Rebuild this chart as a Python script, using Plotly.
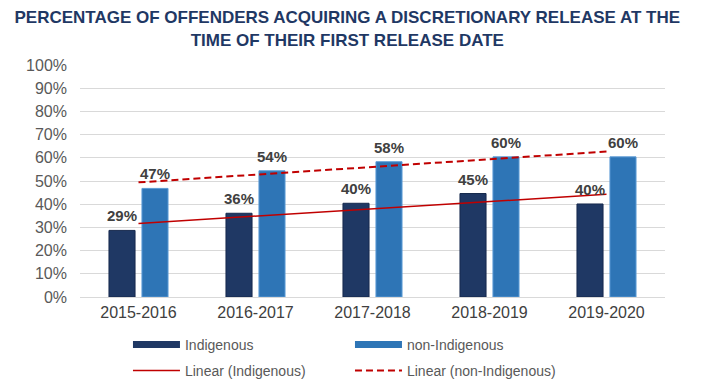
import numpy as np
import plotly.graph_objects as go

categories = ["2015-2016", "2016-2017", "2017-2018", "2018-2019", "2019-2020"]
indigenous = [28.7, 36.1, 40.4, 44.6, 40.1]
non_indigenous = [46.8, 54.4, 58.3, 60.4, 60.4]
y_ticks = [0, 10, 20, 30, 40, 50, 60, 70, 80, 90, 100]
y_tick_labels = [f"{v}%" for v in y_ticks]
title_text = "PERCENTAGE OF OFFENDERS ACQUIRING A DISCRETIONARY RELEASE AT THE<br>TIME OF THEIR FIRST RELEASE DATE"

C_IND = "#1F3864"
C_NON = "#2E75B6"
C_TREND = "#C00000"
FONT = "Liberation Sans, Arial, sans-serif"

xi = np.arange(1, len(categories) + 1)
trend_ind = np.polyval(np.polyfit(xi, indigenous, 1), xi)
trend_non = np.polyval(np.polyfit(xi, non_indigenous, 1), xi)

label_font = dict(family=FONT, size=15, color="#404040", weight="bold")

fig = go.Figure()
fig.add_trace(go.Bar(
    x=categories, y=indigenous, name="Indigenous", marker_color=C_IND,
    marker_line=dict(color="#16294d", width=1), showlegend=False,
))
fig.add_trace(go.Bar(
    x=categories, y=non_indigenous, name="non-Indigenous", marker_color=C_NON,
    marker_line=dict(color="#5b9bd5", width=1), showlegend=False,
))
fig.add_trace(go.Scatter(
    x=categories, y=trend_ind, mode="lines", name="Linear (Indigenous)",
    line=dict(color=C_TREND, width=1.5), legend="legend2",
))
fig.add_trace(go.Scatter(
    x=categories, y=trend_non, mode="lines", name="Linear (non-Indigenous)",
    line=dict(color=C_TREND, width=2, dash="7px,4px"), legend="legend2",
))
# legend proxies for the bars
fig.add_trace(go.Scatter(x=[None], y=[None], mode="lines", name="Indigenous",
                         line=dict(color=C_IND, width=7), legend="legend"))
fig.add_trace(go.Scatter(x=[None], y=[None], mode="lines", name="non-Indigenous",
                         line=dict(color=C_NON, width=7), legend="legend"))

# data labels above each bar (bar centre is half a slot from the category centre)
for series, shift in ((indigenous, -16.5), (non_indigenous, 16.5)):
    for cat, val in zip(categories, series):
        fig.add_annotation(x=cat, y=val, xref="x", yref="y", text=f"{val:.0f}%",
                           showarrow=False, xshift=shift, yshift=4,
                           yanchor="bottom", xanchor="center", font=label_font)

legend_common = dict(
    orientation="h", entrywidth=160, entrywidthmode="pixels",
    font=dict(family=FONT, size=14, color="#595959"),
    xanchor="left", yanchor="middle", itemwidth=47,
    bgcolor="rgba(0,0,0,0)", traceorder="normal",
)

fig.update_layout(
    width=701, height=387,
    margin=dict(l=72, r=44, t=57, b=98, autoexpand=False),
    paper_bgcolor="white", plot_bgcolor="white",
    barmode="group", bargap=0.436, bargroupgap=0.21,
    title=dict(text=title_text, x=0.484, xref="container", xanchor="center",
               y=0.96, yref="container", yanchor="top",
               font=dict(family=FONT, size=17, color="#1F3864", weight="bold")),
    xaxis=dict(showgrid=False, showline=False, ticks="", ticklabelstandoff=4,
               tickfont=dict(family=FONT, size=16, color="#404040")),
    yaxis=dict(range=[0, 100], tickvals=y_ticks, ticktext=y_tick_labels,
               gridcolor="#D9D9D9", gridwidth=1, zeroline=True,
               zerolinecolor="#D9D9D9", zerolinewidth=1, showline=False,
               ticklabelstandoff=12,
               tickfont=dict(family=FONT, size=16, color="#595959")),
    legend=dict(x=0.082, y=-0.207, **legend_common),
    legend2=dict(x=0.082, y=-0.319, **legend_common),
    showlegend=True,
)

fig.write_html("out.html")
